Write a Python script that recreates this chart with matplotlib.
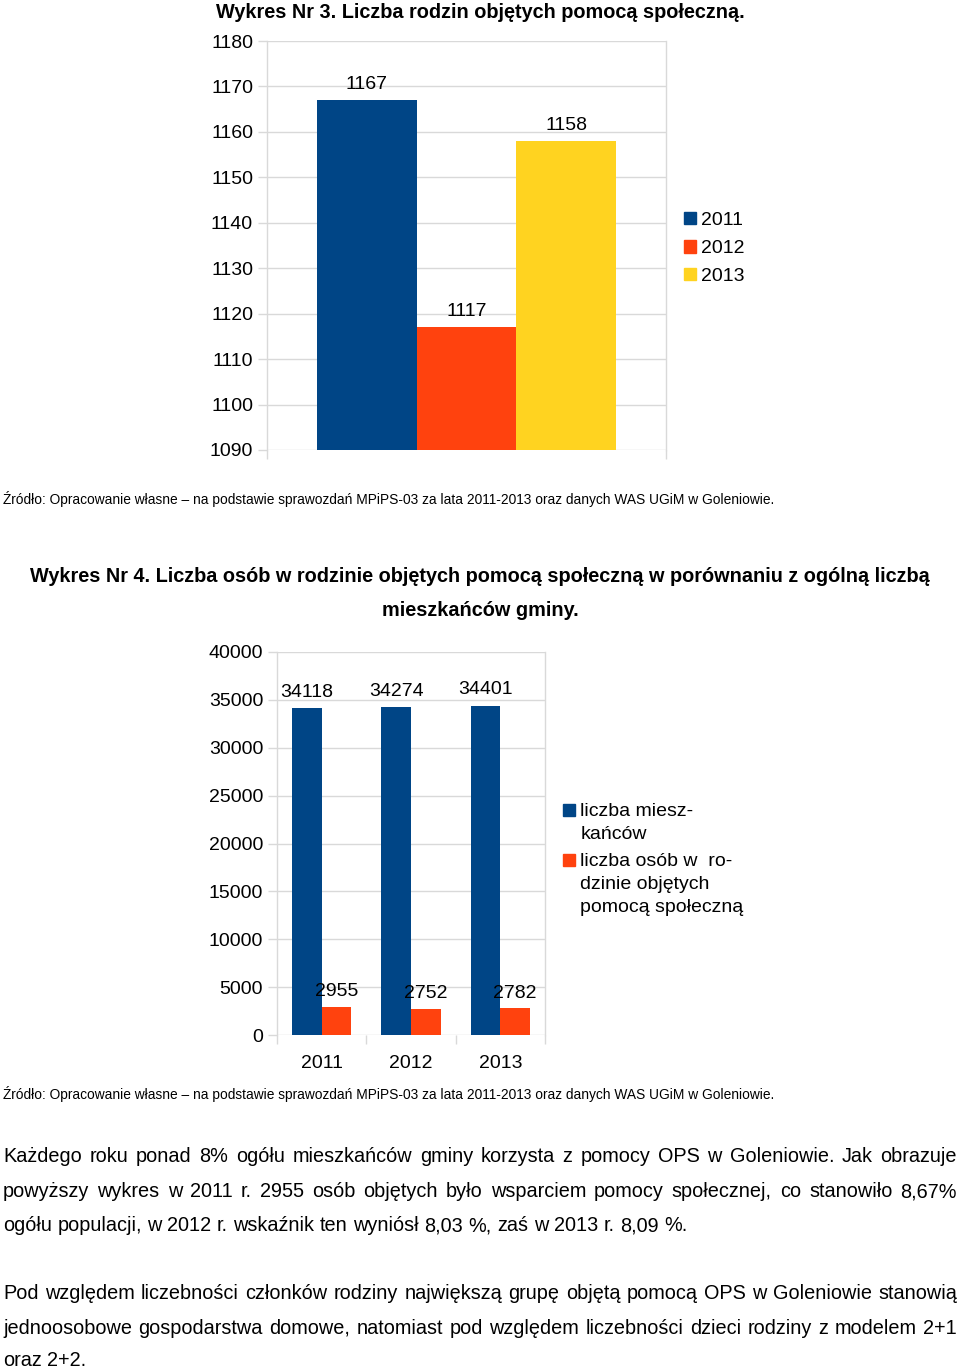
import matplotlib
matplotlib.use('Agg')
import matplotlib.pyplot as plt
from matplotlib.patches import Rectangle
import numpy as np

W, H = 960, 1368
plt.rcParams['font.family'] = ['Liberation Sans', 'DejaVu Sans']

# ---------------- data ----------------
years = ['2011', '2012', '2013']
families = [1167, 1117, 1158]
residents = [34118, 34274, 34401]
persons = [2955, 2752, 2782]
colors = ['#004586', '#ff420e', '#ffd320']
chart1_yticks = list(range(1090, 1181, 10))
chart2_yticks = list(range(0, 40001, 5000))
legend2_labels = ['liczba miesz-\nkańców',
                  'liczba osób w  ro-\ndzinie objętych\npomocą społeczną']

title1 = 'Wykres Nr 3. Liczba rodzin objętych pomocą społeczną.'
title2 = ['Wykres Nr 4. Liczba osób w rodzinie objętych pomocą społeczną w porównaniu z ogólną liczbą',
          'mieszkańców gminy.']
source = ('Źródło: Opracowanie własne – na podstawie sprawozdań MPiPS-03 za lata '
          '2011-2013 oraz danych WAS UGiM w Goleniowie.')
para1 = ['Każdego roku ponad 8% ogółu mieszkańców gminy korzysta z pomocy OPS w Goleniowie. Jak obrazuje',
         'powyższy wykres w 2011 r. 2955 osób objętych było wsparciem pomocy społecznej, co stanowiło 8,67%',
         'ogółu populacji, w 2012 r. wskaźnik ten wyniósł 8,03 %, zaś w 2013 r. 8,09 %.']
para2 = ['Pod względem liczebności członków rodziny największą grupę objętą pomocą OPS w Goleniowie stanowią',
         'jednoosobowe gospodarstwa domowe, natomiast pod względem liczebności dzieci rodziny z modelem 2+1',
         'oraz 2+2.']

# ---------------- helpers ----------------
fig = plt.figure(figsize=(W / 100, H / 100), dpi=100)
GRID = '#d9d9d9'
FS = 14
TFS = 14.3


def fx(px):
    return px / W


def fy(py):
    return 1 - py / H


def add_axes_px(l, t, r, b):
    return fig.add_axes([l / W, 1 - b / H, (r - l) / W, (b - t) / H])


def style_axes(ax, yticks, bounds):
    ax.set_yticks(yticks)
    ax.set_ylim(yticks[0], yticks[-1])
    ax.grid(axis='y', color=GRID, linewidth=1)
    ax.set_axisbelow(True)
    for s in ['top', 'bottom']:
        ax.spines[s].set_visible(False)
    for s in ['left', 'right']:
        ax.spines[s].set_color(GRID)
        ax.spines[s].set_linewidth(1)
    ax.tick_params(axis='y', length=6.5, color=GRID, width=1, pad=3.5,
                   labelsize=FS, labelcolor='black')
    ax.set_xticks(bounds, minor=True)
    ax.tick_params(axis='x', which='minor', length=6.5, color=GRID, width=1)
    ax.set_xlim(bounds[0], bounds[-1])


# ---------------- chart 1 ----------------
ax1 = add_axes_px(267, 41, 666, 450)
x1 = np.arange(len(years)) - 1
ax1.bar(x1, families, width=1.0, color=colors)
style_axes(ax1, chart1_yticks, [-2, 2])
ax1.set_xticks([])
for xi, v in zip(x1, families):
    ax1.annotate(str(v), (xi, v), xytext=(0, 11.3), textcoords='offset points',
                 ha='center', va='center', fontsize=FS)

# legend 1
leg1_base = [224.3, 252.5, 280.3]
for lab, col, yb in zip(years, colors, leg1_base):
    fig.add_artist(Rectangle((fx(684), fy(yb)), 12 / W, 12 / H, color=col,
                             transform=fig.transFigure))
    fig.text(fx(701), fy(yb + 0.5), lab, fontsize=FS, va='baseline', ha='left')

# ---------------- chart 2 ----------------
ax2 = add_axes_px(277, 652, 545, 1035)
x2 = np.arange(len(years))
ax2.bar(x2 - 1 / 6, residents, width=1 / 3, color=colors[0])
ax2.bar(x2 + 1 / 6, persons, width=1 / 3, color=colors[1])
style_axes(ax2, chart2_yticks, [-0.5, 0.5, 1.5, 2.5])
ax2.set_xticks(x2)
ax2.set_xticklabels(years)
ax2.tick_params(axis='x', which='major', length=0, pad=14.3, labelsize=FS)
for xi, v in zip(x2 - 1 / 6, residents):
    ax2.annotate(str(v), (xi, v), xytext=(0, 11.3), textcoords='offset points',
                 ha='center', va='center', fontsize=FS)
for xi, v in zip(x2 + 1 / 6, persons):
    ax2.annotate(str(v), (xi, v), xytext=(0, 10.6), textcoords='offset points',
                 ha='center', va='center', fontsize=FS)

# legend 2
leg2_first = [816.5, 866.5]
LS = 22.5
for lab, col, yb in zip(legend2_labels, colors[:2], leg2_first):
    fig.add_artist(Rectangle((fx(563), fy(yb - 0.5)), 12 / W, 12 / H, color=col,
                             transform=fig.transFigure))
    for i, line in enumerate(lab.split('\n')):
        fig.text(fx(580.5), fy(yb + i * LS), line, fontsize=FS, va='baseline', ha='left')

# ---------------- titles & sources ----------------
fig.text(0.5, fy(18), title1, fontsize=TFS, fontweight='bold', ha='center', va='baseline')
fig.text(0.5, fy(582), title2[0], fontsize=TFS, fontweight='bold', ha='center', va='baseline')
fig.text(0.5, fy(616), title2[1], fontsize=TFS, fontweight='bold', ha='center', va='baseline')
fig.text(fx(3), fy(504), source, fontsize=9.95, ha='left', va='baseline')
fig.text(fx(3), fy(1099), source, fontsize=9.95, ha='left', va='baseline')

# ---------------- justified paragraphs ----------------
renderer = fig.canvas.get_renderer()
PFS = 14.3


def text_width(s):
    t = fig.text(0, 0, s, fontsize=PFS)
    w = t.get_window_extent(renderer).width
    t.remove()
    return w


space_w = text_width('a a') - text_width('aa')


def place_line(text, yb, justify, x0=3, x1=957):
    words = text.split(' ')
    arts = [fig.text(0, fy(yb), w, fontsize=PFS, va='baseline', ha='left') for w in words]
    widths = [a.get_window_extent(renderer).width for a in arts]
    if justify and len(words) > 1:
        gap = (x1 - x0 - sum(widths)) / (len(words) - 1)
    else:
        gap = space_w
    x = x0
    for a, w in zip(arts, widths):
        a.set_x(fx(x))
        x += w + gap


for lines, bases in [(para1, [1162.5, 1197, 1231]), (para2, [1299, 1333.5, 1366])]:
    for i, (line, yb) in enumerate(zip(lines, bases)):
        place_line(line, yb, justify=(i < len(lines) - 1))

fig.savefig('out.png', dpi=100)
